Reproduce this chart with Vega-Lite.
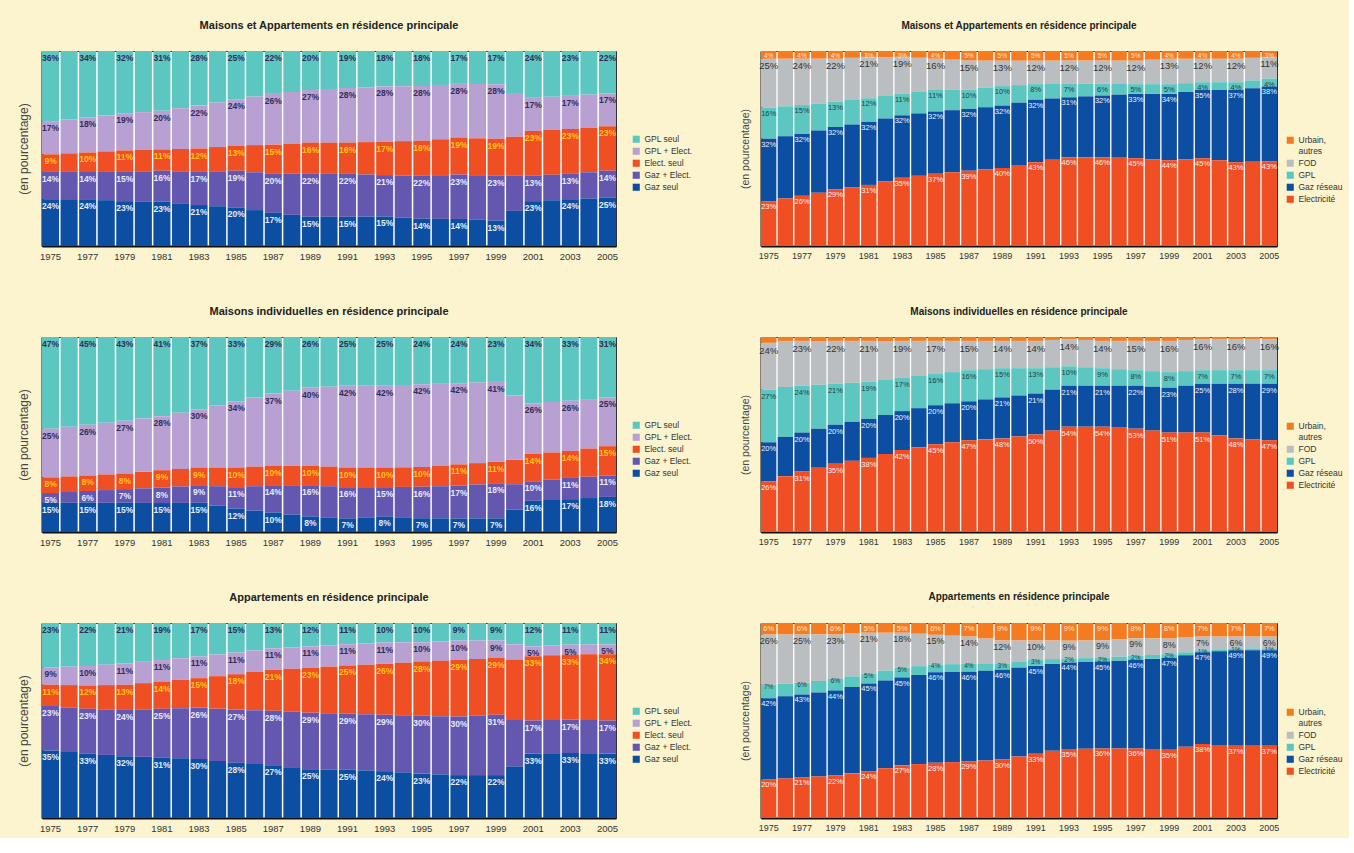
{
"$schema": "https://vega.github.io/schema/vega-lite/v6.json",
"padding": {"left": 16, "top": 19, "right": 5, "bottom": 5},
"background": "#FBF4CE",
"config": {
  "view": {"stroke": "#333333", "strokeWidth": 1, "fill": "#FFFFFF"},
  "axisX": {"labelAngle": 0, "ticks": false, "grid": false, "domainColor": "#111111", "domainWidth": 2, "labelFont": "Liberation Sans", "labelFontSize": 9.5, "labelColor": "#333333", "labelPadding": 5},
  "axisY": {"labels": false, "ticks": false, "grid": false, "domainColor": "#111111", "domainWidth": 2, "titleFont": "Liberation Sans", "titleFontWeight": "normal", "titleColor": "#444444"},
  "title": {"font": "Liberation Sans", "fontWeight": "bold", "color": "#222222"},
  "legend": {"symbolType": "square", "symbolSize": 50, "symbolStrokeWidth": 0, "labelFont": "Liberation Sans", "labelFontSize": 8.5, "labelColor": "#333333", "rowPadding": 3, "labelOffset": 4}
},
"resolve": {"scale": {"color": "independent"}, "legend": {"color": "independent"}},
"datasets": {
  "catL": [
    {"key": "gaz", "c": "Gaz seul", "k": 1},
    {"key": "gaz_elec", "c": "Gaz + Elect.", "k": 2},
    {"key": "elec", "c": "Elect. seul", "k": 3},
    {"key": "gpl_elec", "c": "GPL + Elect.", "k": 4},
    {"key": "gpl", "c": "GPL seul", "k": 5}
  ],
  "catR": [
    {"key": "elec", "c": "Electricité", "k": 1},
    {"key": "gaz", "c": "Gaz réseau", "k": 2},
    {"key": "gpl", "c": "GPL", "k": 3},
    {"key": "fod", "c": "FOD", "k": 4},
    {"key": "urbain", "c": "Urbain, autres", "k": 5}
  ],
  "ensL": [
    {"an": "1975", "gpl": 0.36, "gpl_elec": 0.17, "elec": 0.09, "gaz_elec": 0.14, "gaz": 0.24},
    {"an": "1976", "gpl": 0.35, "gpl_elec": 0.175, "elec": 0.095, "gaz_elec": 0.14, "gaz": 0.24},
    {"an": "1977", "gpl": 0.34, "gpl_elec": 0.18, "elec": 0.10, "gaz_elec": 0.14, "gaz": 0.24},
    {"an": "1978", "gpl": 0.33, "gpl_elec": 0.185, "elec": 0.105, "gaz_elec": 0.145, "gaz": 0.235},
    {"an": "1979", "gpl": 0.32, "gpl_elec": 0.19, "elec": 0.11, "gaz_elec": 0.15, "gaz": 0.23},
    {"an": "1980", "gpl": 0.315, "gpl_elec": 0.195, "elec": 0.11, "gaz_elec": 0.155, "gaz": 0.23},
    {"an": "1981", "gpl": 0.31, "gpl_elec": 0.20, "elec": 0.11, "gaz_elec": 0.16, "gaz": 0.23},
    {"an": "1982", "gpl": 0.295, "gpl_elec": 0.21, "elec": 0.115, "gaz_elec": 0.165, "gaz": 0.22},
    {"an": "1983", "gpl": 0.28, "gpl_elec": 0.22, "elec": 0.12, "gaz_elec": 0.17, "gaz": 0.21},
    {"an": "1984", "gpl": 0.265, "gpl_elec": 0.23, "elec": 0.125, "gaz_elec": 0.18, "gaz": 0.205},
    {"an": "1985", "gpl": 0.25, "gpl_elec": 0.24, "elec": 0.13, "gaz_elec": 0.19, "gaz": 0.20},
    {"an": "1986", "gpl": 0.235, "gpl_elec": 0.25, "elec": 0.14, "gaz_elec": 0.195, "gaz": 0.185},
    {"an": "1987", "gpl": 0.22, "gpl_elec": 0.26, "elec": 0.15, "gaz_elec": 0.20, "gaz": 0.17},
    {"an": "1988", "gpl": 0.21, "gpl_elec": 0.265, "elec": 0.155, "gaz_elec": 0.21, "gaz": 0.16},
    {"an": "1989", "gpl": 0.20, "gpl_elec": 0.27, "elec": 0.16, "gaz_elec": 0.22, "gaz": 0.15},
    {"an": "1990", "gpl": 0.195, "gpl_elec": 0.275, "elec": 0.16, "gaz_elec": 0.22, "gaz": 0.15},
    {"an": "1991", "gpl": 0.19, "gpl_elec": 0.28, "elec": 0.16, "gaz_elec": 0.22, "gaz": 0.15},
    {"an": "1992", "gpl": 0.185, "gpl_elec": 0.28, "elec": 0.165, "gaz_elec": 0.215, "gaz": 0.15},
    {"an": "1993", "gpl": 0.18, "gpl_elec": 0.28, "elec": 0.17, "gaz_elec": 0.21, "gaz": 0.15},
    {"an": "1994", "gpl": 0.18, "gpl_elec": 0.28, "elec": 0.175, "gaz_elec": 0.215, "gaz": 0.145},
    {"an": "1995", "gpl": 0.18, "gpl_elec": 0.28, "elec": 0.18, "gaz_elec": 0.22, "gaz": 0.14},
    {"an": "1996", "gpl": 0.175, "gpl_elec": 0.28, "elec": 0.185, "gaz_elec": 0.225, "gaz": 0.14},
    {"an": "1997", "gpl": 0.17, "gpl_elec": 0.28, "elec": 0.19, "gaz_elec": 0.23, "gaz": 0.14},
    {"an": "1998", "gpl": 0.17, "gpl_elec": 0.28, "elec": 0.19, "gaz_elec": 0.23, "gaz": 0.135},
    {"an": "1999", "gpl": 0.17, "gpl_elec": 0.28, "elec": 0.19, "gaz_elec": 0.23, "gaz": 0.13},
    {"an": "2000", "gpl": 0.22, "gpl_elec": 0.22, "elec": 0.20, "gaz_elec": 0.18, "gaz": 0.18},
    {"an": "2001", "gpl": 0.24, "gpl_elec": 0.17, "elec": 0.23, "gaz_elec": 0.13, "gaz": 0.23},
    {"an": "2002", "gpl": 0.235, "gpl_elec": 0.17, "elec": 0.23, "gaz_elec": 0.13, "gaz": 0.235},
    {"an": "2003", "gpl": 0.23, "gpl_elec": 0.17, "elec": 0.23, "gaz_elec": 0.13, "gaz": 0.24},
    {"an": "2004", "gpl": 0.225, "gpl_elec": 0.17, "elec": 0.23, "gaz_elec": 0.135, "gaz": 0.245},
    {"an": "2005", "gpl": 0.22, "gpl_elec": 0.17, "elec": 0.23, "gaz_elec": 0.14, "gaz": 0.25}
  ],
  "ensR": [
    {"an": "1975", "urbain": 0.04, "fod": 0.25, "gpl": 0.16, "gaz": 0.32, "elec": 0.23},
    {"an": "1976", "urbain": 0.04, "fod": 0.245, "gpl": 0.155, "gaz": 0.32, "elec": 0.245},
    {"an": "1977", "urbain": 0.04, "fod": 0.24, "gpl": 0.15, "gaz": 0.32, "elec": 0.26},
    {"an": "1978", "urbain": 0.04, "fod": 0.23, "gpl": 0.14, "gaz": 0.32, "elec": 0.275},
    {"an": "1979", "urbain": 0.04, "fod": 0.22, "gpl": 0.13, "gaz": 0.32, "elec": 0.29},
    {"an": "1980", "urbain": 0.035, "fod": 0.215, "gpl": 0.125, "gaz": 0.32, "elec": 0.30},
    {"an": "1981", "urbain": 0.03, "fod": 0.21, "gpl": 0.12, "gaz": 0.32, "elec": 0.31},
    {"an": "1982", "urbain": 0.03, "fod": 0.20, "gpl": 0.115, "gaz": 0.32, "elec": 0.33},
    {"an": "1983", "urbain": 0.03, "fod": 0.19, "gpl": 0.11, "gaz": 0.32, "elec": 0.35},
    {"an": "1984", "urbain": 0.035, "fod": 0.175, "gpl": 0.11, "gaz": 0.32, "elec": 0.36},
    {"an": "1985", "urbain": 0.04, "fod": 0.16, "gpl": 0.11, "gaz": 0.32, "elec": 0.37},
    {"an": "1986", "urbain": 0.045, "fod": 0.155, "gpl": 0.105, "gaz": 0.32, "elec": 0.38},
    {"an": "1987", "urbain": 0.05, "fod": 0.15, "gpl": 0.10, "gaz": 0.32, "elec": 0.39},
    {"an": "1988", "urbain": 0.05, "fod": 0.14, "gpl": 0.10, "gaz": 0.32, "elec": 0.395},
    {"an": "1989", "urbain": 0.05, "fod": 0.13, "gpl": 0.10, "gaz": 0.32, "elec": 0.40},
    {"an": "1990", "urbain": 0.05, "fod": 0.125, "gpl": 0.09, "gaz": 0.32, "elec": 0.415},
    {"an": "1991", "urbain": 0.05, "fod": 0.12, "gpl": 0.08, "gaz": 0.32, "elec": 0.43},
    {"an": "1992", "urbain": 0.05, "fod": 0.12, "gpl": 0.075, "gaz": 0.315, "elec": 0.445},
    {"an": "1993", "urbain": 0.05, "fod": 0.12, "gpl": 0.07, "gaz": 0.31, "elec": 0.46},
    {"an": "1994", "urbain": 0.05, "fod": 0.12, "gpl": 0.065, "gaz": 0.315, "elec": 0.46},
    {"an": "1995", "urbain": 0.05, "fod": 0.12, "gpl": 0.06, "gaz": 0.32, "elec": 0.46},
    {"an": "1996", "urbain": 0.05, "fod": 0.12, "gpl": 0.055, "gaz": 0.325, "elec": 0.455},
    {"an": "1997", "urbain": 0.05, "fod": 0.12, "gpl": 0.05, "gaz": 0.33, "elec": 0.45},
    {"an": "1998", "urbain": 0.045, "fod": 0.125, "gpl": 0.05, "gaz": 0.335, "elec": 0.445},
    {"an": "1999", "urbain": 0.04, "fod": 0.13, "gpl": 0.05, "gaz": 0.34, "elec": 0.44},
    {"an": "2000", "urbain": 0.04, "fod": 0.125, "gpl": 0.045, "gaz": 0.345, "elec": 0.445},
    {"an": "2001", "urbain": 0.04, "fod": 0.12, "gpl": 0.04, "gaz": 0.35, "elec": 0.45},
    {"an": "2002", "urbain": 0.04, "fod": 0.12, "gpl": 0.04, "gaz": 0.36, "elec": 0.44},
    {"an": "2003", "urbain": 0.04, "fod": 0.12, "gpl": 0.04, "gaz": 0.37, "elec": 0.43},
    {"an": "2004", "urbain": 0.035, "fod": 0.115, "gpl": 0.04, "gaz": 0.375, "elec": 0.43},
    {"an": "2005", "urbain": 0.03, "fod": 0.11, "gpl": 0.04, "gaz": 0.38, "elec": 0.43}
  ],
  "maiL": [
    {"an": "1975", "gpl": 0.47, "gpl_elec": 0.25, "elec": 0.08, "gaz_elec": 0.05, "gaz": 0.15},
    {"an": "1976", "gpl": 0.46, "gpl_elec": 0.255, "elec": 0.08, "gaz_elec": 0.055, "gaz": 0.15},
    {"an": "1977", "gpl": 0.45, "gpl_elec": 0.26, "elec": 0.08, "gaz_elec": 0.06, "gaz": 0.15},
    {"an": "1978", "gpl": 0.44, "gpl_elec": 0.265, "elec": 0.08, "gaz_elec": 0.065, "gaz": 0.15},
    {"an": "1979", "gpl": 0.43, "gpl_elec": 0.27, "elec": 0.08, "gaz_elec": 0.07, "gaz": 0.15},
    {"an": "1980", "gpl": 0.42, "gpl_elec": 0.275, "elec": 0.085, "gaz_elec": 0.075, "gaz": 0.15},
    {"an": "1981", "gpl": 0.41, "gpl_elec": 0.28, "elec": 0.09, "gaz_elec": 0.08, "gaz": 0.15},
    {"an": "1982", "gpl": 0.39, "gpl_elec": 0.29, "elec": 0.09, "gaz_elec": 0.085, "gaz": 0.15},
    {"an": "1983", "gpl": 0.37, "gpl_elec": 0.30, "elec": 0.09, "gaz_elec": 0.09, "gaz": 0.15},
    {"an": "1984", "gpl": 0.35, "gpl_elec": 0.32, "elec": 0.095, "gaz_elec": 0.10, "gaz": 0.135},
    {"an": "1985", "gpl": 0.33, "gpl_elec": 0.34, "elec": 0.10, "gaz_elec": 0.11, "gaz": 0.12},
    {"an": "1986", "gpl": 0.31, "gpl_elec": 0.355, "elec": 0.10, "gaz_elec": 0.125, "gaz": 0.11},
    {"an": "1987", "gpl": 0.29, "gpl_elec": 0.37, "elec": 0.10, "gaz_elec": 0.14, "gaz": 0.10},
    {"an": "1988", "gpl": 0.275, "gpl_elec": 0.385, "elec": 0.10, "gaz_elec": 0.15, "gaz": 0.09},
    {"an": "1989", "gpl": 0.26, "gpl_elec": 0.40, "elec": 0.10, "gaz_elec": 0.16, "gaz": 0.08},
    {"an": "1990", "gpl": 0.255, "gpl_elec": 0.41, "elec": 0.10, "gaz_elec": 0.16, "gaz": 0.075},
    {"an": "1991", "gpl": 0.25, "gpl_elec": 0.42, "elec": 0.10, "gaz_elec": 0.16, "gaz": 0.07},
    {"an": "1992", "gpl": 0.25, "gpl_elec": 0.42, "elec": 0.10, "gaz_elec": 0.155, "gaz": 0.075},
    {"an": "1993", "gpl": 0.25, "gpl_elec": 0.42, "elec": 0.10, "gaz_elec": 0.15, "gaz": 0.08},
    {"an": "1994", "gpl": 0.245, "gpl_elec": 0.42, "elec": 0.10, "gaz_elec": 0.155, "gaz": 0.075},
    {"an": "1995", "gpl": 0.24, "gpl_elec": 0.42, "elec": 0.10, "gaz_elec": 0.16, "gaz": 0.07},
    {"an": "1996", "gpl": 0.24, "gpl_elec": 0.42, "elec": 0.105, "gaz_elec": 0.165, "gaz": 0.07},
    {"an": "1997", "gpl": 0.24, "gpl_elec": 0.42, "elec": 0.11, "gaz_elec": 0.17, "gaz": 0.07},
    {"an": "1998", "gpl": 0.235, "gpl_elec": 0.415, "elec": 0.11, "gaz_elec": 0.175, "gaz": 0.07},
    {"an": "1999", "gpl": 0.23, "gpl_elec": 0.41, "elec": 0.11, "gaz_elec": 0.18, "gaz": 0.07},
    {"an": "2000", "gpl": 0.30, "gpl_elec": 0.33, "elec": 0.125, "gaz_elec": 0.13, "gaz": 0.115},
    {"an": "2001", "gpl": 0.34, "gpl_elec": 0.26, "elec": 0.14, "gaz_elec": 0.10, "gaz": 0.16},
    {"an": "2002", "gpl": 0.335, "gpl_elec": 0.26, "elec": 0.14, "gaz_elec": 0.105, "gaz": 0.165},
    {"an": "2003", "gpl": 0.33, "gpl_elec": 0.26, "elec": 0.14, "gaz_elec": 0.11, "gaz": 0.17},
    {"an": "2004", "gpl": 0.32, "gpl_elec": 0.255, "elec": 0.145, "gaz_elec": 0.11, "gaz": 0.175},
    {"an": "2005", "gpl": 0.31, "gpl_elec": 0.25, "elec": 0.15, "gaz_elec": 0.11, "gaz": 0.18}
  ],
  "maiR": [
    {"an": "1975", "urbain": 0.03, "fod": 0.24, "gpl": 0.27, "gaz": 0.20, "elec": 0.26},
    {"an": "1976", "urbain": 0.02, "fod": 0.235, "gpl": 0.255, "gaz": 0.20, "elec": 0.285},
    {"an": "1977", "urbain": 0.02, "fod": 0.23, "gpl": 0.24, "gaz": 0.20, "elec": 0.31},
    {"an": "1978", "urbain": 0.02, "fod": 0.225, "gpl": 0.225, "gaz": 0.20, "elec": 0.33},
    {"an": "1979", "urbain": 0.02, "fod": 0.22, "gpl": 0.21, "gaz": 0.20, "elec": 0.35},
    {"an": "1980", "urbain": 0.02, "fod": 0.215, "gpl": 0.20, "gaz": 0.20, "elec": 0.365},
    {"an": "1981", "urbain": 0.02, "fod": 0.21, "gpl": 0.19, "gaz": 0.20, "elec": 0.38},
    {"an": "1982", "urbain": 0.02, "fod": 0.20, "gpl": 0.18, "gaz": 0.20, "elec": 0.40},
    {"an": "1983", "urbain": 0.02, "fod": 0.19, "gpl": 0.17, "gaz": 0.20, "elec": 0.42},
    {"an": "1984", "urbain": 0.02, "fod": 0.18, "gpl": 0.165, "gaz": 0.20, "elec": 0.435},
    {"an": "1985", "urbain": 0.02, "fod": 0.17, "gpl": 0.16, "gaz": 0.20, "elec": 0.45},
    {"an": "1986", "urbain": 0.02, "fod": 0.16, "gpl": 0.16, "gaz": 0.20, "elec": 0.46},
    {"an": "1987", "urbain": 0.02, "fod": 0.15, "gpl": 0.16, "gaz": 0.20, "elec": 0.47},
    {"an": "1988", "urbain": 0.02, "fod": 0.145, "gpl": 0.155, "gaz": 0.205, "elec": 0.475},
    {"an": "1989", "urbain": 0.02, "fod": 0.14, "gpl": 0.15, "gaz": 0.21, "elec": 0.48},
    {"an": "1990", "urbain": 0.02, "fod": 0.14, "gpl": 0.14, "gaz": 0.21, "elec": 0.49},
    {"an": "1991", "urbain": 0.02, "fod": 0.14, "gpl": 0.13, "gaz": 0.21, "elec": 0.50},
    {"an": "1992", "urbain": 0.015, "fod": 0.14, "gpl": 0.115, "gaz": 0.21, "elec": 0.52},
    {"an": "1993", "urbain": 0.01, "fod": 0.14, "gpl": 0.10, "gaz": 0.21, "elec": 0.54},
    {"an": "1994", "urbain": 0.015, "fod": 0.14, "gpl": 0.095, "gaz": 0.21, "elec": 0.54},
    {"an": "1995", "urbain": 0.02, "fod": 0.14, "gpl": 0.09, "gaz": 0.21, "elec": 0.54},
    {"an": "1996", "urbain": 0.02, "fod": 0.145, "gpl": 0.085, "gaz": 0.215, "elec": 0.535},
    {"an": "1997", "urbain": 0.02, "fod": 0.15, "gpl": 0.08, "gaz": 0.22, "elec": 0.53},
    {"an": "1998", "urbain": 0.02, "fod": 0.155, "gpl": 0.08, "gaz": 0.225, "elec": 0.52},
    {"an": "1999", "urbain": 0.02, "fod": 0.16, "gpl": 0.08, "gaz": 0.23, "elec": 0.51},
    {"an": "2000", "urbain": 0.015, "fod": 0.16, "gpl": 0.075, "gaz": 0.24, "elec": 0.51},
    {"an": "2001", "urbain": 0.01, "fod": 0.16, "gpl": 0.07, "gaz": 0.25, "elec": 0.51},
    {"an": "2002", "urbain": 0.01, "fod": 0.16, "gpl": 0.07, "gaz": 0.265, "elec": 0.495},
    {"an": "2003", "urbain": 0.01, "fod": 0.16, "gpl": 0.07, "gaz": 0.28, "elec": 0.48},
    {"an": "2004", "urbain": 0.01, "fod": 0.16, "gpl": 0.07, "gaz": 0.285, "elec": 0.475},
    {"an": "2005", "urbain": 0.01, "fod": 0.16, "gpl": 0.07, "gaz": 0.29, "elec": 0.47}
  ],
  "appL": [
    {"an": "1975", "gpl": 0.23, "gpl_elec": 0.09, "elec": 0.11, "gaz_elec": 0.23, "gaz": 0.35},
    {"an": "1976", "gpl": 0.225, "gpl_elec": 0.095, "elec": 0.115, "gaz_elec": 0.23, "gaz": 0.34},
    {"an": "1977", "gpl": 0.22, "gpl_elec": 0.10, "elec": 0.12, "gaz_elec": 0.23, "gaz": 0.33},
    {"an": "1978", "gpl": 0.215, "gpl_elec": 0.105, "elec": 0.125, "gaz_elec": 0.235, "gaz": 0.325},
    {"an": "1979", "gpl": 0.21, "gpl_elec": 0.11, "elec": 0.13, "gaz_elec": 0.24, "gaz": 0.32},
    {"an": "1980", "gpl": 0.20, "gpl_elec": 0.11, "elec": 0.135, "gaz_elec": 0.245, "gaz": 0.315},
    {"an": "1981", "gpl": 0.19, "gpl_elec": 0.11, "elec": 0.14, "gaz_elec": 0.25, "gaz": 0.31},
    {"an": "1982", "gpl": 0.18, "gpl_elec": 0.11, "elec": 0.145, "gaz_elec": 0.255, "gaz": 0.305},
    {"an": "1983", "gpl": 0.17, "gpl_elec": 0.11, "elec": 0.15, "gaz_elec": 0.26, "gaz": 0.30},
    {"an": "1984", "gpl": 0.16, "gpl_elec": 0.11, "elec": 0.165, "gaz_elec": 0.265, "gaz": 0.29},
    {"an": "1985", "gpl": 0.15, "gpl_elec": 0.11, "elec": 0.18, "gaz_elec": 0.27, "gaz": 0.28},
    {"an": "1986", "gpl": 0.14, "gpl_elec": 0.11, "elec": 0.195, "gaz_elec": 0.275, "gaz": 0.275},
    {"an": "1987", "gpl": 0.13, "gpl_elec": 0.11, "elec": 0.21, "gaz_elec": 0.28, "gaz": 0.27},
    {"an": "1988", "gpl": 0.125, "gpl_elec": 0.11, "elec": 0.22, "gaz_elec": 0.285, "gaz": 0.26},
    {"an": "1989", "gpl": 0.12, "gpl_elec": 0.11, "elec": 0.23, "gaz_elec": 0.29, "gaz": 0.25},
    {"an": "1990", "gpl": 0.115, "gpl_elec": 0.11, "elec": 0.24, "gaz_elec": 0.29, "gaz": 0.25},
    {"an": "1991", "gpl": 0.11, "gpl_elec": 0.11, "elec": 0.25, "gaz_elec": 0.29, "gaz": 0.25},
    {"an": "1992", "gpl": 0.105, "gpl_elec": 0.11, "elec": 0.255, "gaz_elec": 0.29, "gaz": 0.245},
    {"an": "1993", "gpl": 0.10, "gpl_elec": 0.11, "elec": 0.26, "gaz_elec": 0.29, "gaz": 0.24},
    {"an": "1994", "gpl": 0.10, "gpl_elec": 0.105, "elec": 0.27, "gaz_elec": 0.295, "gaz": 0.235},
    {"an": "1995", "gpl": 0.10, "gpl_elec": 0.10, "elec": 0.28, "gaz_elec": 0.30, "gaz": 0.23},
    {"an": "1996", "gpl": 0.095, "gpl_elec": 0.10, "elec": 0.285, "gaz_elec": 0.30, "gaz": 0.225},
    {"an": "1997", "gpl": 0.09, "gpl_elec": 0.10, "elec": 0.29, "gaz_elec": 0.30, "gaz": 0.22},
    {"an": "1998", "gpl": 0.09, "gpl_elec": 0.095, "elec": 0.29, "gaz_elec": 0.305, "gaz": 0.22},
    {"an": "1999", "gpl": 0.09, "gpl_elec": 0.09, "elec": 0.29, "gaz_elec": 0.31, "gaz": 0.22},
    {"an": "2000", "gpl": 0.11, "gpl_elec": 0.08, "elec": 0.31, "gaz_elec": 0.24, "gaz": 0.265},
    {"an": "2001", "gpl": 0.12, "gpl_elec": 0.05, "elec": 0.33, "gaz_elec": 0.17, "gaz": 0.33},
    {"an": "2002", "gpl": 0.115, "gpl_elec": 0.05, "elec": 0.33, "gaz_elec": 0.17, "gaz": 0.33},
    {"an": "2003", "gpl": 0.11, "gpl_elec": 0.05, "elec": 0.33, "gaz_elec": 0.17, "gaz": 0.33},
    {"an": "2004", "gpl": 0.11, "gpl_elec": 0.05, "elec": 0.335, "gaz_elec": 0.17, "gaz": 0.33},
    {"an": "2005", "gpl": 0.11, "gpl_elec": 0.05, "elec": 0.34, "gaz_elec": 0.17, "gaz": 0.33}
  ],
  "appR": [
    {"an": "1975", "urbain": 0.06, "fod": 0.26, "gpl": 0.07, "gaz": 0.42, "elec": 0.20},
    {"an": "1976", "urbain": 0.06, "fod": 0.255, "gpl": 0.065, "gaz": 0.425, "elec": 0.205},
    {"an": "1977", "urbain": 0.06, "fod": 0.25, "gpl": 0.06, "gaz": 0.43, "elec": 0.21},
    {"an": "1978", "urbain": 0.06, "fod": 0.24, "gpl": 0.06, "gaz": 0.435, "elec": 0.215},
    {"an": "1979", "urbain": 0.06, "fod": 0.23, "gpl": 0.06, "gaz": 0.44, "elec": 0.22},
    {"an": "1980", "urbain": 0.055, "fod": 0.22, "gpl": 0.055, "gaz": 0.445, "elec": 0.23},
    {"an": "1981", "urbain": 0.05, "fod": 0.21, "gpl": 0.05, "gaz": 0.45, "elec": 0.24},
    {"an": "1982", "urbain": 0.05, "fod": 0.195, "gpl": 0.05, "gaz": 0.45, "elec": 0.255},
    {"an": "1983", "urbain": 0.05, "fod": 0.18, "gpl": 0.05, "gaz": 0.45, "elec": 0.27},
    {"an": "1984", "urbain": 0.055, "fod": 0.165, "gpl": 0.045, "gaz": 0.455, "elec": 0.275},
    {"an": "1985", "urbain": 0.06, "fod": 0.15, "gpl": 0.04, "gaz": 0.46, "elec": 0.28},
    {"an": "1986", "urbain": 0.065, "fod": 0.145, "gpl": 0.04, "gaz": 0.46, "elec": 0.285},
    {"an": "1987", "urbain": 0.07, "fod": 0.14, "gpl": 0.04, "gaz": 0.46, "elec": 0.29},
    {"an": "1988", "urbain": 0.08, "fod": 0.13, "gpl": 0.035, "gaz": 0.46, "elec": 0.295},
    {"an": "1989", "urbain": 0.09, "fod": 0.12, "gpl": 0.03, "gaz": 0.46, "elec": 0.30},
    {"an": "1990", "urbain": 0.09, "fod": 0.11, "gpl": 0.03, "gaz": 0.455, "elec": 0.315},
    {"an": "1991", "urbain": 0.09, "fod": 0.10, "gpl": 0.03, "gaz": 0.45, "elec": 0.33},
    {"an": "1992", "urbain": 0.09, "fod": 0.095, "gpl": 0.025, "gaz": 0.445, "elec": 0.345},
    {"an": "1993", "urbain": 0.09, "fod": 0.09, "gpl": 0.02, "gaz": 0.44, "elec": 0.35},
    {"an": "1994", "urbain": 0.09, "fod": 0.09, "gpl": 0.02, "gaz": 0.445, "elec": 0.355},
    {"an": "1995", "urbain": 0.09, "fod": 0.09, "gpl": 0.02, "gaz": 0.45, "elec": 0.36},
    {"an": "1996", "urbain": 0.085, "fod": 0.09, "gpl": 0.02, "gaz": 0.455, "elec": 0.36},
    {"an": "1997", "urbain": 0.08, "fod": 0.09, "gpl": 0.02, "gaz": 0.46, "elec": 0.36},
    {"an": "1998", "urbain": 0.08, "fod": 0.085, "gpl": 0.02, "gaz": 0.465, "elec": 0.355},
    {"an": "1999", "urbain": 0.08, "fod": 0.08, "gpl": 0.02, "gaz": 0.47, "elec": 0.35},
    {"an": "2000", "urbain": 0.075, "fod": 0.075, "gpl": 0.015, "gaz": 0.47, "elec": 0.365},
    {"an": "2001", "urbain": 0.07, "fod": 0.07, "gpl": 0.01, "gaz": 0.47, "elec": 0.38},
    {"an": "2002", "urbain": 0.07, "fod": 0.065, "gpl": 0.01, "gaz": 0.48, "elec": 0.375},
    {"an": "2003", "urbain": 0.07, "fod": 0.06, "gpl": 0.01, "gaz": 0.49, "elec": 0.37},
    {"an": "2004", "urbain": 0.07, "fod": 0.06, "gpl": 0.01, "gaz": 0.49, "elec": 0.37},
    {"an": "2005", "urbain": 0.07, "fod": 0.06, "gpl": 0.01, "gaz": 0.49, "elec": 0.37}
  ]
},
"vconcat": [
  {"hconcat": [
    {
      "width": 574, "height": 195,
      "title": {"text": "Maisons et Appartements en résidence principale", "fontSize": 11, "offset": 20},
      "data": {"name": "ensL"},
      "transform": [
        {"fold": ["gpl", "gpl_elec", "elec", "gaz_elec", "gaz"], "as": ["key", "v"]},
        {"lookup": "key", "from": {"data": {"name": "catL"}, "key": "key", "fields": ["c", "k"]}}
      ],
      "encoding": {
        "x": {"field": "an", "type": "ordinal", "title": null, "scale": {"paddingInner": 0.08, "paddingOuter": 0}, "axis": {"values": ["1975","1977","1979","1981","1983","1985","1987","1989","1991","1993","1995","1997","1999","2001","2003","2005"]}},
        "y": {"field": "v", "type": "quantitative", "stack": "normalize", "title": "(en pourcentage)", "axis": {"titleFontSize": 12, "titlePadding": 12}},
        "order": {"field": "k", "type": "quantitative"}
      },
      "layer": [
        {"mark": {"type": "bar"}, "encoding": {"color": {"field": "c", "type": "nominal", "title": null, "scale": {"domain": ["GPL seul", "GPL + Elect.", "Elect. seul", "Gaz + Elect.", "Gaz seul"], "range": ["#5CC6C1", "#B9A0D3", "#F04E23", "#6457B0", "#0B4EA2"]}, "legend": {"orient": "none", "legendX": 590, "legendY": 84}}}},
        {"transform": [{"filter": "toNumber(datum.an) % 2 == 1"}], "mark": {"type": "text", "baseline": "top", "dy": 3, "fontSize": 8.5, "fontWeight": "bold", "font": "Liberation Sans"}, "encoding": {"text": {"field": "v", "type": "quantitative", "format": ".0%"}, "detail": {"field": "c"}, "color": {"condition": [{"test": "datum.c == 'Elect. seul'", "value": "#FFC21A"}, {"test": "datum.c == 'Gaz + Elect.' || datum.c == 'Gaz seul'", "value": "#E6EAF6"}], "value": "#2E2E5A"}}}
      ]
    },
    {
      "width": 516, "height": 195,
      "title": {"text": "Maisons et Appartements en résidence principale", "fontSize": 10, "offset": 20},
      "data": {"name": "ensR"},
      "transform": [
        {"fold": ["urbain", "fod", "gpl", "gaz", "elec"], "as": ["key", "v"]},
        {"lookup": "key", "from": {"data": {"name": "catR"}, "key": "key", "fields": ["c", "k"]}}
      ],
      "encoding": {
        "x": {"field": "an", "type": "ordinal", "title": null, "scale": {"paddingInner": 0.08, "paddingOuter": 0}, "axis": {"labelFontSize": 9, "values": ["1975","1977","1979","1981","1983","1985","1987","1989","1991","1993","1995","1997","1999","2001","2003","2005"]}},
        "y": {"field": "v", "type": "quantitative", "stack": "normalize", "title": "(en pourcentage)", "axis": {"titleFontSize": 10.5, "titlePadding": 11}},
        "order": {"field": "k", "type": "quantitative"}
      },
      "layer": [
        {"mark": {"type": "bar"}, "encoding": {"color": {"field": "c", "type": "nominal", "title": null, "scale": {"domain": ["Urbain, autres", "FOD", "GPL", "Gaz réseau", "Electricité"], "range": ["#F47B20", "#BBBEC1", "#5CC6C1", "#0B4EA2", "#F04E23"]}, "legend": {"orient": "none", "legendX": 525, "legendY": 85, "labelExpr": "datum.label == 'Urbain, autres' ? ['Urbain,', 'autres'] : datum.label"}}}},
        {"transform": [{"filter": "toNumber(datum.an) % 2 == 1"}], "mark": {"type": "text", "baseline": "top", "dy": 2, "font": "Liberation Sans"}, "encoding": {"text": {"field": "v", "type": "quantitative", "format": ".0%"}, "detail": {"field": "c"}, "size": {"condition": [{"test": "datum.c == 'FOD'", "value": 9.5}, {"test": "datum.c == 'Urbain, autres'", "value": 6.5}], "value": 7.5}, "color": {"condition": [{"test": "datum.c == 'FOD'", "value": "#333333"}, {"test": "datum.c == 'GPL'", "value": "#1E4444"}, {"test": "datum.c == 'Urbain, autres'", "value": "#FFE3C8"}], "value": "#EEF0F8"}}}
      ]
    }
  ], "spacing": 45, "resolve": {"scale": {"color": "independent"}, "legend": {"color": "independent"}}},
  {"hconcat": [
    {
      "width": 574, "height": 195,
      "title": {"text": "Maisons individuelles en résidence principale", "fontSize": 11, "offset": 20},
      "data": {"name": "maiL"},
      "transform": [
        {"fold": ["gpl", "gpl_elec", "elec", "gaz_elec", "gaz"], "as": ["key", "v"]},
        {"lookup": "key", "from": {"data": {"name": "catL"}, "key": "key", "fields": ["c", "k"]}}
      ],
      "encoding": {
        "x": {"field": "an", "type": "ordinal", "title": null, "scale": {"paddingInner": 0.08, "paddingOuter": 0}, "axis": {"values": ["1975","1977","1979","1981","1983","1985","1987","1989","1991","1993","1995","1997","1999","2001","2003","2005"]}},
        "y": {"field": "v", "type": "quantitative", "stack": "normalize", "title": "(en pourcentage)", "axis": {"titleFontSize": 12, "titlePadding": 12}},
        "order": {"field": "k", "type": "quantitative"}
      },
      "layer": [
        {"mark": {"type": "bar"}, "encoding": {"color": {"field": "c", "type": "nominal", "title": null, "scale": {"domain": ["GPL seul", "GPL + Elect.", "Elect. seul", "Gaz + Elect.", "Gaz seul"], "range": ["#5CC6C1", "#B9A0D3", "#F04E23", "#6457B0", "#0B4EA2"]}, "legend": {"orient": "none", "legendX": 590, "legendY": 84}}}},
        {"transform": [{"filter": "toNumber(datum.an) % 2 == 1"}], "mark": {"type": "text", "baseline": "top", "dy": 3, "fontSize": 8.5, "fontWeight": "bold", "font": "Liberation Sans"}, "encoding": {"text": {"field": "v", "type": "quantitative", "format": ".0%"}, "detail": {"field": "c"}, "color": {"condition": [{"test": "datum.c == 'Elect. seul'", "value": "#FFC21A"}, {"test": "datum.c == 'Gaz + Elect.' || datum.c == 'Gaz seul'", "value": "#E6EAF6"}], "value": "#2E2E5A"}}}
      ]
    },
    {
      "width": 516, "height": 195,
      "title": {"text": "Maisons individuelles en résidence principale", "fontSize": 10, "offset": 20},
      "data": {"name": "maiR"},
      "transform": [
        {"fold": ["urbain", "fod", "gpl", "gaz", "elec"], "as": ["key", "v"]},
        {"lookup": "key", "from": {"data": {"name": "catR"}, "key": "key", "fields": ["c", "k"]}}
      ],
      "encoding": {
        "x": {"field": "an", "type": "ordinal", "title": null, "scale": {"paddingInner": 0.08, "paddingOuter": 0}, "axis": {"labelFontSize": 9, "values": ["1975","1977","1979","1981","1983","1985","1987","1989","1991","1993","1995","1997","1999","2001","2003","2005"]}},
        "y": {"field": "v", "type": "quantitative", "stack": "normalize", "title": "(en pourcentage)", "axis": {"titleFontSize": 10.5, "titlePadding": 11}},
        "order": {"field": "k", "type": "quantitative"}
      },
      "layer": [
        {"mark": {"type": "bar"}, "encoding": {"color": {"field": "c", "type": "nominal", "title": null, "scale": {"domain": ["Urbain, autres", "FOD", "GPL", "Gaz réseau", "Electricité"], "range": ["#F47B20", "#BBBEC1", "#5CC6C1", "#0B4EA2", "#F04E23"]}, "legend": {"orient": "none", "legendX": 525, "legendY": 85, "labelExpr": "datum.label == 'Urbain, autres' ? ['Urbain,', 'autres'] : datum.label"}}}},
        {"transform": [{"filter": "toNumber(datum.an) % 2 == 1"}], "mark": {"type": "text", "baseline": "top", "dy": 3, "font": "Liberation Sans"}, "encoding": {"text": {"field": "v", "type": "quantitative", "format": ".0%", "condition": {"test": "datum.c == 'Urbain, autres'", "value": ""}}, "detail": {"field": "c"}, "size": {"condition": {"test": "datum.c == 'FOD'", "value": 9.5}, "value": 7.5}, "color": {"condition": [{"test": "datum.c == 'FOD'", "value": "#333333"}, {"test": "datum.c == 'GPL'", "value": "#1E4444"}], "value": "#EEF0F8"}}}
      ]
    }
  ], "spacing": 45, "resolve": {"scale": {"color": "independent"}, "legend": {"color": "independent"}}},
  {"hconcat": [
    {
      "width": 574, "height": 195,
      "title": {"text": "Appartements en résidence principale", "fontSize": 11, "offset": 20},
      "data": {"name": "appL"},
      "transform": [
        {"fold": ["gpl", "gpl_elec", "elec", "gaz_elec", "gaz"], "as": ["key", "v"]},
        {"lookup": "key", "from": {"data": {"name": "catL"}, "key": "key", "fields": ["c", "k"]}}
      ],
      "encoding": {
        "x": {"field": "an", "type": "ordinal", "title": null, "scale": {"paddingInner": 0.08, "paddingOuter": 0}, "axis": {"values": ["1975","1977","1979","1981","1983","1985","1987","1989","1991","1993","1995","1997","1999","2001","2003","2005"]}},
        "y": {"field": "v", "type": "quantitative", "stack": "normalize", "title": "(en pourcentage)", "axis": {"titleFontSize": 12, "titlePadding": 12}},
        "order": {"field": "k", "type": "quantitative"}
      },
      "layer": [
        {"mark": {"type": "bar"}, "encoding": {"color": {"field": "c", "type": "nominal", "title": null, "scale": {"domain": ["GPL seul", "GPL + Elect.", "Elect. seul", "Gaz + Elect.", "Gaz seul"], "range": ["#5CC6C1", "#B9A0D3", "#F04E23", "#6457B0", "#0B4EA2"]}, "legend": {"orient": "none", "legendX": 590, "legendY": 84}}}},
        {"transform": [{"filter": "toNumber(datum.an) % 2 == 1"}], "mark": {"type": "text", "baseline": "top", "dy": 3, "fontSize": 8.5, "fontWeight": "bold", "font": "Liberation Sans"}, "encoding": {"text": {"field": "v", "type": "quantitative", "format": ".0%"}, "detail": {"field": "c"}, "color": {"condition": [{"test": "datum.c == 'Elect. seul'", "value": "#FFC21A"}, {"test": "datum.c == 'Gaz + Elect.' || datum.c == 'Gaz seul'", "value": "#E6EAF6"}], "value": "#2E2E5A"}}}
      ]
    },
    {
      "width": 516, "height": 195,
      "title": {"text": "Appartements en résidence principale", "fontSize": 10, "offset": 20},
      "data": {"name": "appR"},
      "transform": [
        {"fold": ["urbain", "fod", "gpl", "gaz", "elec"], "as": ["key", "v"]},
        {"lookup": "key", "from": {"data": {"name": "catR"}, "key": "key", "fields": ["c", "k"]}}
      ],
      "encoding": {
        "x": {"field": "an", "type": "ordinal", "title": null, "scale": {"paddingInner": 0.08, "paddingOuter": 0}, "axis": {"labelFontSize": 9, "values": ["1975","1977","1979","1981","1983","1985","1987","1989","1991","1993","1995","1997","1999","2001","2003","2005"]}},
        "y": {"field": "v", "type": "quantitative", "stack": "normalize", "title": "(en pourcentage)", "axis": {"titleFontSize": 10.5, "titlePadding": 11}},
        "order": {"field": "k", "type": "quantitative"}
      },
      "layer": [
        {"mark": {"type": "bar"}, "encoding": {"color": {"field": "c", "type": "nominal", "title": null, "scale": {"domain": ["Urbain, autres", "FOD", "GPL", "Gaz réseau", "Electricité"], "range": ["#F47B20", "#BBBEC1", "#5CC6C1", "#0B4EA2", "#F04E23"]}, "legend": {"orient": "none", "legendX": 525, "legendY": 85, "labelExpr": "datum.label == 'Urbain, autres' ? ['Urbain,', 'autres'] : datum.label"}}}},
        {"transform": [{"filter": "toNumber(datum.an) % 2 == 1"}], "mark": {"type": "text", "baseline": "top", "dy": 2, "font": "Liberation Sans"}, "encoding": {"text": {"field": "v", "type": "quantitative", "format": ".0%", "condition": {"test": "datum.c == 'GPL'", "value": ""}}, "detail": {"field": "c"}, "size": {"condition": {"test": "datum.c == 'FOD'", "value": 9}, "value": 7.5}, "color": {"condition": [{"test": "datum.c == 'FOD'", "value": "#333333"}, {"test": "datum.c == 'Urbain, autres'", "value": "#FFE3C8"}], "value": "#EEF0F8"}}},
        {"transform": [{"filter": "toNumber(datum.an) % 2 == 1"}], "mark": {"type": "text", "baseline": "top", "dy": -1, "font": "Liberation Sans", "fontSize": 6.5, "color": "#1E4444"}, "encoding": {"text": {"field": "v", "type": "quantitative", "format": ".0%", "condition": {"test": "datum.c != 'GPL'", "value": ""}}, "detail": {"field": "c"}}}
      ]
    }
  ], "spacing": 45, "resolve": {"scale": {"color": "independent"}, "legend": {"color": "independent"}}}
],
"spacing": 44
}
